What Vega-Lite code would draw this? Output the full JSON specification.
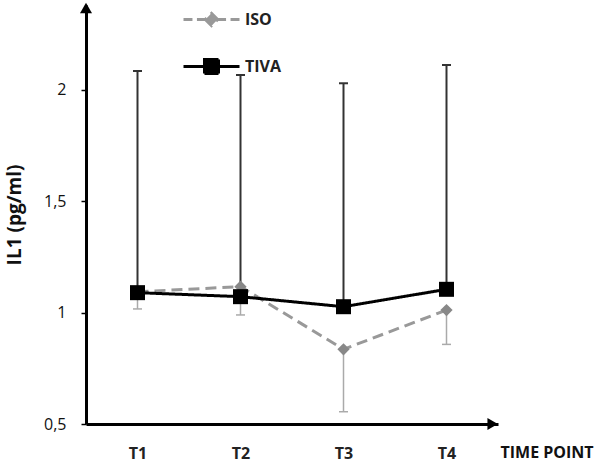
{
  "$schema": "https://vega.github.io/schema/vega-lite/v6.json",
  "width": 412,
  "height": 419,
  "autosize": {"type": "none"},
  "padding": {"left": 86, "top": 5, "right": 102, "bottom": 40},
  "config": {
    "view": {"stroke": null},
    "font": "Open Sans",
    "axisY": {
      "titleFontSize": 19,
      "titleFontWeight": "bold",
      "titleColor": "#111111",
      "titlePadding": 19,
      "labelFontSize": 16,
      "labelColor": "#111111",
      "labelPadding": 15,
      "tickSize": 5,
      "tickWidth": 1.5,
      "tickColor": "#000000",
      "domainColor": "#000000",
      "domainWidth": 3,
      "grid": false
    },
    "axisX": {
      "titleX": 414,
      "titleY": 33,
      "titleAlign": "left",
      "titleBaseline": "alphabetic",
      "titleFontSize": 16,
      "titleFontWeight": "bold",
      "titleColor": "#111111",
      "labelFontSize": 16,
      "labelFontWeight": "bold",
      "labelColor": "#222222",
      "labelPadding": 21,
      "labelAngle": 0,
      "ticks": false,
      "domainWidth": 3,
      "domainColor": "#000000",
      "grid": false
    }
  },
  "data": {
    "values": [
      {"time": "T1", "group": "ISO", "mean": 1.093, "end": 1.016},
      {"time": "T2", "group": "ISO", "mean": 1.116, "end": 0.989},
      {"time": "T3", "group": "ISO", "mean": 0.835, "end": 0.555},
      {"time": "T4", "group": "ISO", "mean": 1.011, "end": 0.857},
      {"time": "T1", "group": "TIVA", "mean": 1.089, "end": 2.083},
      {"time": "T2", "group": "TIVA", "mean": 1.071, "end": 2.065},
      {"time": "T3", "group": "TIVA", "mean": 1.026, "end": 2.028},
      {"time": "T4", "group": "TIVA", "mean": 1.104, "end": 2.11}
    ]
  },
  "layer": [
    {
      "encoding": {
        "x": {
          "field": "time",
          "type": "ordinal",
          "scale": {"type": "point", "padding": 0.5},
          "title": "TIME POINT"
        }
      },
      "layer": [
        {
          "transform": [{"filter": "datum.group === 'ISO'"}],
          "mark": {"type": "rule", "color": "#aaaaaa", "strokeWidth": 1.5},
          "encoding": {
            "y": {
              "field": "mean",
              "type": "quantitative",
              "title": "IL1 (pg/ml)",
              "scale": {"domain": [0.5, 2.379], "nice": false, "zero": false},
              "axis": {
                "values": [0.5, 1, 1.5, 2],
                "format": "~g",
                "labelExpr": "replace(datum.label, '.', ',')"
              }
            },
            "y2": {"field": "end"}
          }
        },
        {
          "transform": [{"filter": "datum.group === 'ISO'"}],
          "mark": {"type": "tick", "color": "#aaaaaa", "size": 9, "thickness": 1.5, "opacity": 1},
          "encoding": {
            "y": {"field": "end", "type": "quantitative", "title": "IL1 (pg/ml)", "scale": {"domain": [0.5, 2.379], "nice": false, "zero": false}}
          }
        },
        {
          "transform": [{"filter": "datum.group === 'TIVA'"}],
          "mark": {"type": "rule", "color": "#333333", "strokeWidth": 2},
          "encoding": {
            "y": {"field": "mean", "type": "quantitative", "title": "IL1 (pg/ml)", "scale": {"domain": [0.5, 2.379], "nice": false, "zero": false}},
            "y2": {"field": "end"}
          }
        },
        {
          "transform": [{"filter": "datum.group === 'TIVA'"}],
          "mark": {"type": "tick", "color": "#333333", "size": 9, "thickness": 2, "opacity": 1},
          "encoding": {
            "y": {"field": "end", "type": "quantitative", "title": "IL1 (pg/ml)", "scale": {"domain": [0.5, 2.379], "nice": false, "zero": false}}
          }
        },
        {
          "mark": {"type": "line", "strokeWidth": 3},
          "encoding": {
            "y": {"field": "mean", "type": "quantitative", "title": "IL1 (pg/ml)", "scale": {"domain": [0.5, 2.379], "nice": false, "zero": false}},
            "color": {
              "field": "group",
              "type": "nominal",
              "scale": {"domain": ["ISO", "TIVA"], "range": ["#999999", "#000000"]},
              "legend": {
                "title": null,
                "orient": "none",
                "legendX": 96,
                "legendY": -15,
                "direction": "vertical",
                "padding": 0,
                "symbolSize": 3136,
                "symbolStrokeWidth": 3,
                "rowPadding": 5,
                "labelFontSize": 16,
                "labelFontWeight": "bold",
                "labelColor": "#222222",
                "labelOffset": 4,
                "encode": {
                  "symbols": {
                    "update": {
                      "shape": {"signal": "datum.value === 'ISO' ? 'M-1,0H-0.68M-0.52,0H-0.24M0.24,0H0.52M0.68,0H1M0,-0.22L0.22,0L0,0.22L-0.22,0Z' : 'M-1,0H1M-0.25,-0.25H0.25V0.25H-0.25Z'"},
                      "fill": {"signal": "datum.value === 'ISO' ? '#999999' : '#000000'"},
                      "stroke": {"signal": "datum.value === 'ISO' ? '#999999' : '#000000'"},
                      "strokeWidth": {"value": 3},
                      "opacity": {"value": 1},
                      "fillOpacity": {"value": 1}
                    }
                  }
                }
              }
            },
            "strokeDash": {
              "field": "group",
              "type": "nominal",
              "scale": {"domain": ["ISO", "TIVA"], "range": [[11, 6], [1, 0]]},
              "legend": null
            }
          }
        },
        {
          "transform": [{"filter": "datum.group === 'ISO'"}],
          "mark": {"type": "point", "shape": "diamond", "filled": true, "size": 150, "color": "#888888", "opacity": 1},
          "encoding": {
            "y": {"field": "mean", "type": "quantitative", "title": "IL1 (pg/ml)", "scale": {"domain": [0.5, 2.379], "nice": false, "zero": false}}
          }
        },
        {
          "transform": [{"filter": "datum.group === 'TIVA'"}],
          "mark": {"type": "point", "shape": "square", "filled": true, "size": 225, "color": "#000000", "opacity": 1},
          "encoding": {
            "y": {"field": "mean", "type": "quantitative", "title": "IL1 (pg/ml)", "scale": {"domain": [0.5, 2.379], "nice": false, "zero": false}}
          }
        }
      ]
    },
    {
      "data": {"values": [{}]},
      "layer": [
        {
          "mark": {"type": "point", "shape": "triangle-up", "filled": true, "size": 144, "color": "#000000", "opacity": 1},
          "encoding": {
            "x": {"datum": 0, "type": "quantitative", "scale": {"domain": [0, 1]}, "axis": null},
            "y": {"datum": 2.3655, "type": "quantitative", "title": "IL1 (pg/ml)", "scale": {"domain": [0.5, 2.379], "nice": false, "zero": false}}
          }
        },
        {
          "mark": {"type": "point", "shape": "triangle-right", "filled": true, "size": 144, "color": "#000000", "opacity": 1},
          "encoding": {
            "x": {"datum": 0.987, "type": "quantitative", "scale": {"domain": [0, 1]}, "axis": null},
            "y": {"datum": 0.5, "type": "quantitative", "title": "IL1 (pg/ml)", "scale": {"domain": [0.5, 2.379], "nice": false, "zero": false}}
          }
        }
      ]
    }
  ],
  "resolve": {"scale": {"x": "independent"}}
}
